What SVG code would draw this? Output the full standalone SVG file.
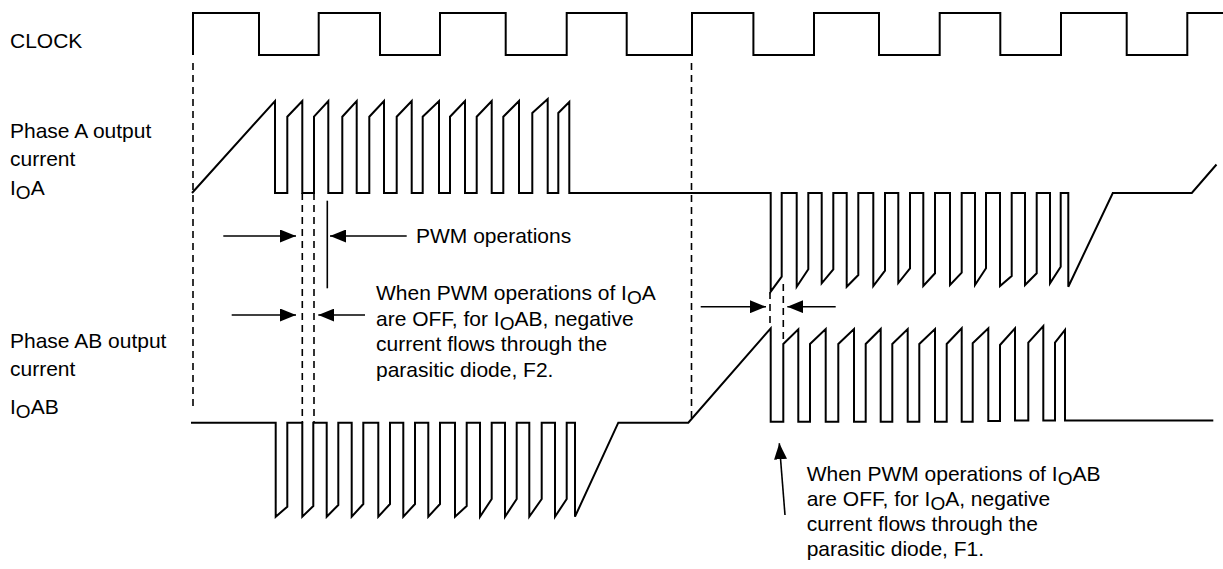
<svg xmlns="http://www.w3.org/2000/svg" width="1223" height="569" viewBox="0 0 1223 569">
<defs>
<style>
.w{fill:none;stroke:#000;stroke-width:2;stroke-linejoin:miter}
.d{fill:none;stroke:#000;stroke-width:1.6;stroke-dasharray:7,5}
.s{fill:none;stroke:#000;stroke-width:1.6}
.t{font-family:"Liberation Sans",Arial,sans-serif;font-size:21px;fill:#000}
.sub{font-size:19px}
</style>
<marker id="ah" viewBox="0 0 16 13" refX="16" refY="6.5" markerWidth="16" markerHeight="13" markerUnits="userSpaceOnUse" orient="auto">
<path d="M0,0 L16,6.5 L0,13 Z" fill="#000"/>
</marker>
</defs>
<rect width="1223" height="569" fill="#fff"/>
<g id="labels">
<text class="t" x="10" y="48">CLOCK</text>
<text class="t" x="10" y="138">Phase A output</text>
<text class="t" x="10" y="166">current</text>
<text class="t" x="10" y="195">I<tspan class="sub" dy="4">O</tspan><tspan dy="-4">A</tspan></text>
<text class="t" x="10" y="348">Phase AB output</text>
<text class="t" x="10" y="376">current</text>
<text class="t" x="10" y="414">I<tspan class="sub" dy="4">O</tspan><tspan dy="-4">AB</tspan></text>
</g>
<g id="clock">
<path class="w" d="M193,55 V13 H259 V55 H318.7 V13 H380 V55 H440 V13 H505.7 V55 H566.7 V13 H626.7 V55 H692 V13 H753.4 V55 H814 V13 H879 V55 H939.7 V13 H1000.3 V55 H1061 V13 H1126.7 V55 H1187.3 V13 H1223"/>
</g>
<g id="phaseA">
<path class="w" d="M192,193 L275,101 V193 H287.3 V116.7 L302.3,101 V193 H314 V116.7 L328.3,101 V193 H342.3 V116.7 L356.7,101 V193 H369.3 V116.7 L384,101 V193 H396.7 V116.7 L411.7,101 V193 H422.7 V116.7 L439,101 V193 H450 V116.7 L465,101 V193 H476.7 V116.7 L491.7,101 V193 H503.3 V116.7 L519,101 V193 H532.3 V113 L547.7,99 V193 H558.3 V113 L569.3,102 V193 H770.7 V291.7 L781.7,276.7 V193 H796.7 V286.7 L808.3,269.3 V193 H821.7 V283.3 L833.3,269.3 V193 H846.7 V286.7 L858.3,275 V193 H873.3 V286 L885,270.7 V193 H898.3 V283 L910,268.3 V193 H923.3 V286 L935,273.3 V193 H950 V285 L961.7,272.7 V193 H975 V285 L986,268.3 V193 H1000 V286 L1011.7,276 V193 H1025 V285 L1036.7,273.3 V193 H1050 V283.3 L1060.7,266.7 V193 H1068.3 V286.7 L1112.8,193 H1191.8 L1216.5,164.5"/>
</g>
<g id="phaseAB">
<path class="w" d="M191,422.7 H275.7 V516.7 L287.3,506.7 V422.7 H302.3 V516.7 L313.3,506 V422.7 H326.7 V516.7 L338.3,505 V422.7 H351.7 V516.7 L363.3,504 V422.7 H378.3 V516.7 L390,504 V422.7 H403.3 V516.7 L415,504 V422.7 H428.3 V516.7 L440,504 V422.7 H455 V516.7 L466.7,506 V422.7 H480 V516.7 L491.7,499 V422.7 H505 V516.7 L516.7,499 V422.7 H529.3 V516.7 L541.7,499 V422.7 H555 V516.7 L566.7,499 V422.7 H575 V516.7 L618.3,422.7 H688.3 L770.7,328.3 V421.7 H783.3 V344 L798.3,329.3 V421.7 H810 V344 L825.7,329 V421.7 H838.3 V344 L854,329 V421.7 H865.7 V344 L880.7,329 V421.7 H892.3 V344 L907.7,329 V421.7 H919.3 V344 L935,329 V421.7 H946.7 V344 L961.7,328.3 V421.7 H972.7 V343.3 L988.3,328.3 V421 H1000 V345 L1015,328.3 V420.5 H1028.3 V342.7 L1043.3,326 V420.5 H1055 V342.7 L1065,330 V420.5 H1213.3"/>
</g>
<g id="connectors">
<path class="d" d="M193,63 V408"/>
<path class="d" d="M691.5,63 V420"/>
<path class="d" d="M302.3,193 V423"/>
<path class="d" d="M314,193 V423"/>
<path class="d" d="M770,292 V328"/>
<path class="d" d="M783.3,284 V344"/>
<path class="s" d="M327.3,200.7 V288.3"/>
<path class="s" d="M223.3,236 H296" marker-end="url(#ah)"/>
<path class="s" d="M406.7,236 H330" marker-end="url(#ah)"/>
<path class="s" d="M231.7,315 H296" marker-end="url(#ah)"/>
<path class="s" d="M365,315 H318.3" marker-end="url(#ah)"/>
<path class="s" d="M700.7,306.7 H766" marker-end="url(#ah)"/>
<path class="s" d="M835.7,306.7 H787.3" marker-end="url(#ah)"/>
<path class="s" d="M785,515 L779.3,443.3" marker-end="url(#ah)"/>
</g>
<g id="notes">
<text class="t" x="416" y="243">PWM operations</text>
<text class="t" x="376" y="300">When PWM operations of I<tspan class="sub" dy="4">O</tspan><tspan dy="-4">A</tspan></text>
<text class="t" x="376" y="325.5">are OFF, for I<tspan class="sub" dy="4">O</tspan><tspan dy="-4">AB, negative</tspan></text>
<text class="t" x="376" y="351">current flows through the</text>
<text class="t" x="376" y="376.5">parasitic diode, F2.</text>
<text class="t" x="806.7" y="481">When PWM operations of I<tspan class="sub" dy="4">O</tspan><tspan dy="-4">AB</tspan></text>
<text class="t" x="806.7" y="506">are OFF, for I<tspan class="sub" dy="4">O</tspan><tspan dy="-4">A, negative</tspan></text>
<text class="t" x="806.7" y="531">current flows through the</text>
<text class="t" x="806.7" y="556">parasitic diode, F1.</text>
</g>
</svg>
